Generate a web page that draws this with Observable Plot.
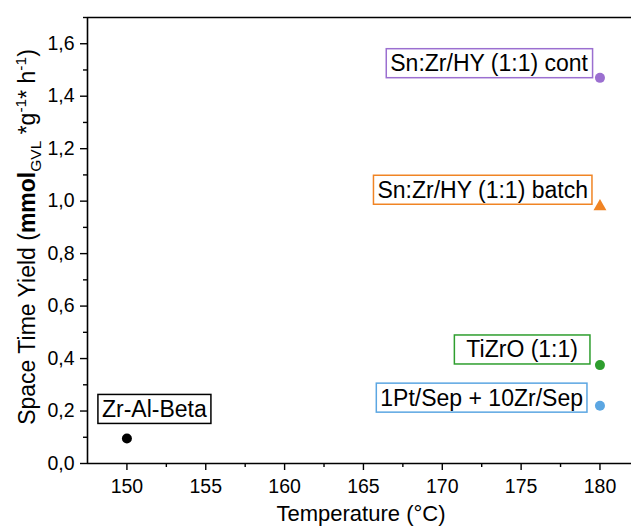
<!DOCTYPE html>
<html><head><meta charset="utf-8">
<script src="https://cdn.jsdelivr.net/npm/d3@7"></script>
<script src="https://cdn.jsdelivr.net/npm/@observablehq/plot@0.6"></script>
<style>body{margin:0;background:#fff} #chart svg{font-family:"Liberation Sans",Arial,sans-serif;}</style>
</head><body><div id="chart"></div><script>
const catalysts = ["Zr-Al-Beta", "Sn:Zr/HY (1:1) cont", "Sn:Zr/HY (1:1) batch", "TiZrO (1:1)", "1Pt/Sep + 10Zr/Sep"];
const temperatures = [150, 180, 180, 180, 180];
const yields = [0.095, 1.47, 0.98, 0.375, 0.22];
const markerShapes = ["circle", "circle", "triangle", "circle", "circle"];
const markerColors = ["#000000", "#9b6fd0", "#f08424", "#2e9e2e", "#5ba6e2"];
const yTicks = [0, 0.2, 0.4, 0.6, 0.8, 1.0, 1.2, 1.4, 1.6];
const yMinorTicks = [0.1, 0.3, 0.5, 0.7, 0.9, 1.1, 1.3, 1.5, 1.7];
const xTicks = [150, 155, 160, 165, 170, 175, 180];
const xMinorTicks = [152.5, 157.5, 162.5, 167.5, 172.5, 177.5];

const data = catalysts.map((name, i) => ({name, t: temperatures[i], y: yields[i], shape: markerShapes[i]}));
const fmt = d => d.toFixed(1).replace(".", ",");
const pick = n => data.filter(d => d.name === n);
const lab = (n, opts) => Plot.text(pick(n), {x: "t", y: "y", text: "name", fontSize: 23, fill: "#000", ...opts});

const W = 631, H = 529;
const svg = Plot.plot({
  width: W, height: H,
  marginLeft: 87, marginRight: 0, marginTop: 17, marginBottom: 66,
  style: {fontSize: "19.5px", fontFamily: "'Liberation Sans', Arial, sans-serif", background: "#fff", color: "#000"},
  x: {domain: [147.5, 182]},
  y: {domain: [0, 1.7]},
  color: {domain: catalysts, range: markerColors},
  marks: [
    Plot.axisY({ticks: yMinorTicks, tickSize: 4, tickFormat: () => "", label: null, strokeWidth: 1.4}),
    Plot.axisY({ticks: yTicks, tickSize: 7, tickPadding: 6, tickFormat: fmt, label: null, strokeWidth: 1.4, fontSize: 19.5}),
    Plot.axisX({ticks: xMinorTicks, tickSize: 4, tickFormat: () => "", label: null, strokeWidth: 1.4}),
    Plot.axisX({ticks: xTicks, tickSize: 7, tickPadding: 9, label: null, strokeWidth: 1.4, fontSize: 19.5}),
    Plot.ruleX([147.5], {stroke: "#000", strokeWidth: 1.6}),
    Plot.ruleY([0], {stroke: "#000", strokeWidth: 1.6}),
    Plot.ruleY([1.7], {stroke: "#000", strokeWidth: 1.6}),
    Plot.dot(data.filter(d => d.shape === "circle"), {x: "t", y: "y", fill: "name", r: 5, symbol: "circle"}),
    Plot.dot(data.filter(d => d.shape === "triangle"), {x: "t", y: "y", fill: "name", r: 4.8, symbol: "triangle"}),
    lab("Zr-Al-Beta", {textAnchor: "start", dx: -25, dy: -29}),
    lab("Sn:Zr/HY (1:1) cont", {textAnchor: "end", dx: -12, dy: -14}),
    lab("Sn:Zr/HY (1:1) batch", {textAnchor: "end", dx: -12, dy: -16}),
    lab("TiZrO (1:1)", {textAnchor: "end", dx: -22, dy: -15}),
    lab("1Pt/Sep + 10Zr/Sep", {textAnchor: "end", dx: -17, dy: -7.5})
  ]
});
document.getElementById("chart").appendChild(svg);

// boxes around annotation labels, stroked in the marker colour
const ns = "http://www.w3.org/2000/svg";
const boxPadX = {"TiZrO (1:1)": 12};
svg.querySelectorAll("text").forEach(t => {
  const i = catalysts.indexOf(t.textContent);
  if (i < 0) return;
  const px = boxPadX[t.textContent] ?? 4;
  const b = t.getBBox();
  const r = document.createElementNS(ns, "rect");
  r.setAttribute("x", b.x - px); r.setAttribute("y", b.y - 1.5);
  r.setAttribute("width", b.width + 2 * px); r.setAttribute("height", b.height + 3);
  r.setAttribute("fill", "#fff");
  r.setAttribute("stroke", markerColors[i]);
  r.setAttribute("stroke-width", 1.5);
  if (t.getAttribute("transform")) r.setAttribute("transform", t.getAttribute("transform"));
  t.parentNode.insertBefore(r, t);
});

// axis titles
const xt = document.createElementNS(ns, "text");
xt.setAttribute("x", 361); xt.setAttribute("y", 521);
xt.setAttribute("text-anchor", "middle"); xt.setAttribute("font-size", 22); xt.setAttribute("fill", "#000");
xt.textContent = "Temperature (°C)";
svg.appendChild(xt);

const yt = document.createElementNS(ns, "text");
yt.setAttribute("transform", "translate(35,237) rotate(-90)");
yt.setAttribute("text-anchor", "middle"); yt.setAttribute("font-size", 23); yt.setAttribute("fill", "#000");
const parts = [["Space Time Yield (", 0, 23, 400], ["mmol", 0, 23, 600], ["GVL", 6, 15.5, 400], [" *g", -6, 23, 400], ["-1", -9, 15.5, 400], ["* h", 9, 23, 400], ["-1", -9, 15.5, 400], [")", 9, 23, 400]];
parts.forEach(([s, dy, fs, fw]) => {
  const ts = document.createElementNS(ns, "tspan");
  ts.setAttribute("dy", dy); ts.setAttribute("font-size", fs); ts.setAttribute("font-weight", fw);
  ts.textContent = s;
  yt.appendChild(ts);
});
svg.appendChild(yt);
</script></body></html>
